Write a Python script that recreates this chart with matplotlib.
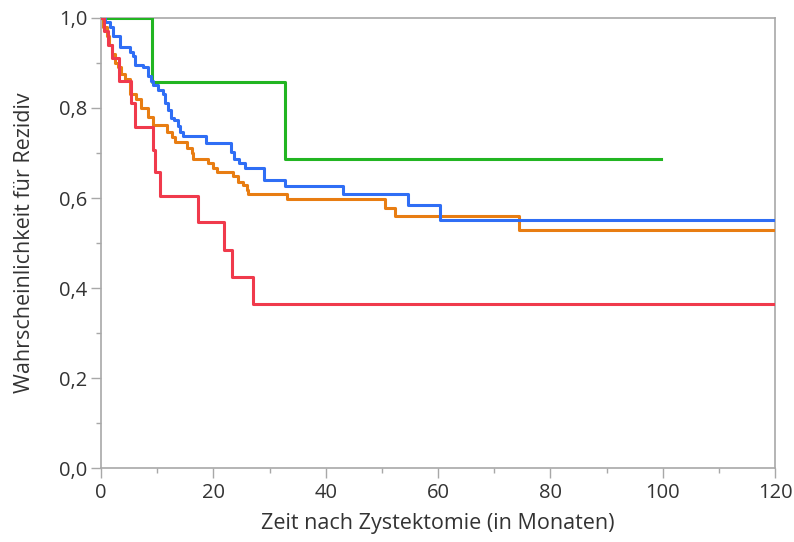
import matplotlib
matplotlib.use("Agg")
import matplotlib.pyplot as plt
from matplotlib.ticker import MultipleLocator, FuncFormatter

# Kaplan-Meier style step data (months, probability)
green_t = [0, 9.0, 32.8, 99.7]
green_y = [1.0, 0.857, 0.686, 0.686]

red_t = [0, 0.5, 1.2, 2.0, 3.2, 5.4, 6.1, 9.3, 9.6, 10.5, 17.3, 21.9, 23.3, 27.1, 120]
red_y = [1.0, 0.97, 0.94, 0.91, 0.86, 0.81, 0.758, 0.707, 0.658, 0.604, 0.546, 0.485, 0.424, 0.364, 0.364]

orange_t = [0, 0.4, 1.0, 1.5, 2.0, 2.5, 3.0, 3.6, 4.3, 5.2, 6.2, 7.1, 8.4, 9.3, 11.7, 12.6, 13.2,
            15.3, 16.2, 16.4, 19.0, 20.0, 20.6, 23.5, 24.4, 25.3, 26.0, 26.2, 33.1, 50.6, 52.3,
            74.4, 120]
orange_y = [1.0, 0.98, 0.96, 0.94, 0.92, 0.90, 0.89, 0.875, 0.865, 0.83, 0.82, 0.80, 0.78, 0.762,
            0.747, 0.735, 0.724, 0.711, 0.70, 0.687, 0.678, 0.667, 0.658, 0.649, 0.636, 0.629,
            0.618, 0.609, 0.598, 0.578, 0.56, 0.529, 0.529]

blue_t = [0, 0.7, 1.6, 2.1, 3.4, 5.2, 5.7, 6.1, 7.5, 8.4, 8.9, 9.3, 10.1, 11.0, 11.4, 12.0,
          12.5, 13.0, 13.7, 14.1, 14.6, 18.7, 23.1, 23.7, 24.6, 25.6, 29.0, 32.8, 43.1, 54.7,
          60.4, 120]
blue_y = [1.0, 0.99, 0.98, 0.96, 0.935, 0.925, 0.915, 0.895, 0.89, 0.87, 0.86, 0.85, 0.84,
          0.83, 0.81, 0.795, 0.778, 0.774, 0.76, 0.746, 0.737, 0.722, 0.702, 0.687, 0.678,
          0.667, 0.64, 0.627, 0.609, 0.584, 0.552, 0.552]

x_label = "Zeit nach Zystektomie (in Monaten)"
y_label = "Wahrscheinlichkeit für Rezidiv"

plt.rcParams['font.family'] = ['Open Sans', 'DejaVu Sans']

fig = plt.figure(figsize=(7.94, 5.42), dpi=100)
ax = fig.add_axes([0.1272, 0.1365, 0.8489, 0.8303])

lw = 2.2
ax.step(green_t, green_y, where='post', color='#22b522', lw=lw, zorder=3)
ax.step(orange_t, orange_y, where='post', color='#e87d12', lw=lw, zorder=4)
ax.step(blue_t, blue_y, where='post', color='#2f6ef5', lw=lw, zorder=5)
ax.step(red_t, red_y, where='post', color='#f03a4c', lw=lw, zorder=6)

ax.set_xlim(0, 120)
ax.set_ylim(0, 1.0)
ax.xaxis.set_major_locator(MultipleLocator(20))
ax.xaxis.set_minor_locator(MultipleLocator(10))
ax.yaxis.set_major_locator(MultipleLocator(0.2))
ax.yaxis.set_minor_locator(MultipleLocator(0.1))
ax.yaxis.set_major_formatter(FuncFormatter(lambda v, p: f"{v:.1f}".replace('.', ',')))
ax.xaxis.set_major_formatter(FuncFormatter(lambda v, p: f"{int(round(v))}"))

spine_c = '#a8a8a8'
for s in ax.spines.values():
    s.set_color(spine_c)
    s.set_linewidth(1.2)
ax.tick_params(which='major', length=7, width=1.0, color=spine_c, labelsize=14.5,
               labelcolor='#333333')
ax.tick_params(axis='x', which='major', pad=4)
ax.tick_params(axis='y', which='major', pad=3)
ax.tick_params(which='minor', length=3.5, width=1.0, color=spine_c)

ax.set_xlabel(x_label, fontsize=15.5, color='#333333', labelpad=7)
ax.set_ylabel(y_label, fontsize=15.5, color='#333333', labelpad=17)

fig.savefig("out.png", dpi=100)
